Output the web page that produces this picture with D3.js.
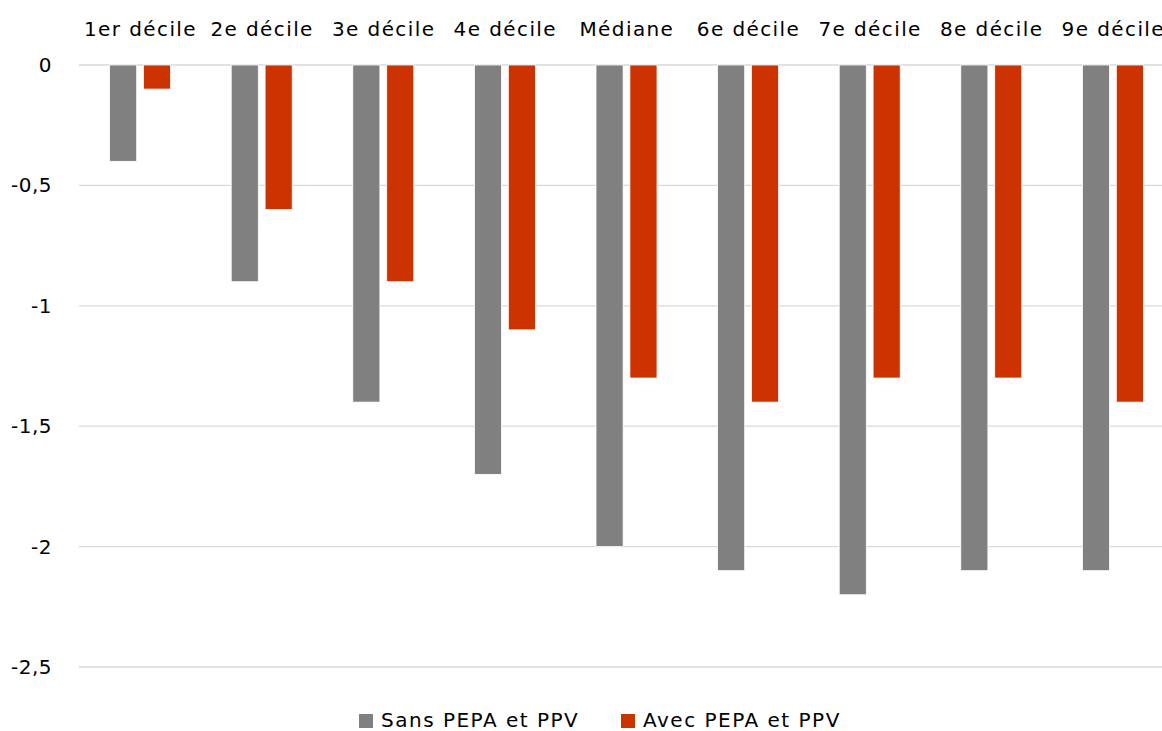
<!DOCTYPE html>
<html><head><meta charset="utf-8">
<script src="https://cdn.jsdelivr.net/npm/d3@7"></script>
<style>body{margin:0;background:#fff;overflow:hidden}svg{display:block;font-family:"DejaVu Sans",sans-serif}</style>
</head><body><svg id="c" width="1162" height="731"></svg>
<script>
const categories = ["1er décile","2e décile","3e décile","4e décile","Médiane","6e décile","7e décile","8e décile","9e décile"];
const seriesNames = ["Sans PEPA et PPV","Avec PEPA et PPV"];
const sansValues = [-0.4,-0.9,-1.4,-1.7,-2.0,-2.1,-2.2,-2.1,-2.1];
const avecValues = [-0.1,-0.6,-0.9,-1.1,-1.3,-1.4,-1.3,-1.3,-1.4];
const yTicks = [0,-0.5,-1,-1.5,-2,-2.5];
const colors = ["#808080","#CC3300"];

const svg = d3.select("#c");
const x = d3.scaleBand().domain(categories).range([79, 1173.4]).padding(0);
const x1 = d3.scaleBand().domain(seriesNames).range([30.6, 91.6]).paddingInner(0.2);
const y = d3.scaleLinear().domain([-2.5, 0]).range([667, 65]);
const fmt = v => String(v).replace(".", ",");

svg.append("g").selectAll("line").data(yTicks).join("line")
  .attr("x1", 79).attr("x2", 1162)
  .attr("y1", d => y(d)).attr("y2", d => y(d))
  .attr("stroke", "#d9d9d9").attr("stroke-width", 1.3);

svg.append("g").selectAll("text").data(yTicks).join("text")
  .attr("x", 52).attr("y", d => y(d) + 7)
  .attr("text-anchor", "end").attr("font-size", 20).attr("fill", "#000")
  .attr("letter-spacing", 0.5)
  .text(fmt);

svg.append("g").selectAll("text").data(categories).join("text")
  .attr("x", d => x(d) + x.bandwidth()/2 + 0.7).attr("y", 36)
  .attr("text-anchor", "middle").attr("font-size", 20).attr("fill", "#000")
  .attr("letter-spacing", 1.4)
  .text(d => d);

const data = [sansValues, avecValues];
data.forEach((vals, si) => {
  svg.append("g").selectAll("rect").data(vals).join("rect")
    .attr("x", (d, i) => x(categories[i]) + x1(seriesNames[si]))
    .attr("width", x1.bandwidth())
    .attr("y", y(0))
    .attr("height", d => y(d) - y(0))
    .attr("fill", colors[si])
    .attr("stroke", "#fff").attr("stroke-width", 0.8);
});

const legendX = [359, 621];
const lg = svg.append("g");
seriesNames.forEach((s, i) => {
  lg.append("rect").attr("x", legendX[i]).attr("y", 714).attr("width", 14).attr("height", 14).attr("fill", colors[i]);
  lg.append("text").attr("x", legendX[i] + 22).attr("y", 727)
    .attr("font-size", 20).attr("fill", "#000").attr("letter-spacing", 1.5).text(s);
});
</script></body></html>
